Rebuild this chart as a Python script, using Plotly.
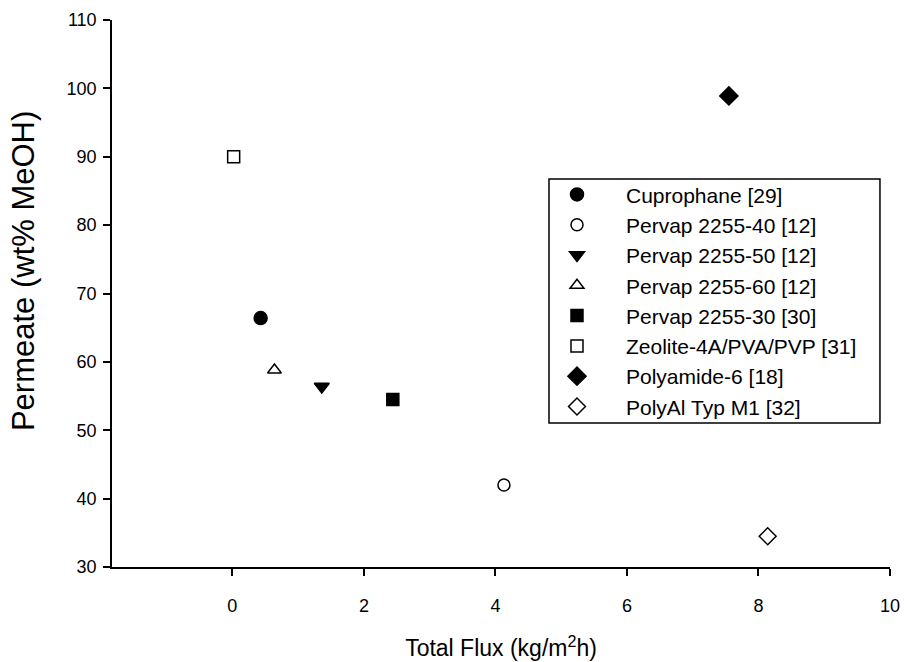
import plotly.graph_objects as go

names = ["Cuprophane [29]", "Pervap 2255-40 [12]", "Pervap 2255-50 [12]", "Pervap 2255-60 [12]",
         "Pervap 2255-30 [30]", "Zeolite-4A/PVA/PVP [31]", "Polyamide-6 [18]", "PolyAl Typ M1 [32]"]
flux = [0.43, 4.13, 1.36, 0.64, 2.44, 0.02, 7.55, 8.14]
permeate = [66.4, 42.0, 56.4, 58.8, 54.5, 90.0, 98.9, 34.5]
symbols = ["circle", "circle-open", "triangle-down", "triangle-up-open",
           "square", "square-open", "diamond", "diamond-open"]
sizes = [13, 12, 13, 12, 12, 12, 14, 13]
x_title = "Total Flux (kg/m<sup>2</sup>h)"
y_title = "Permeate (wt% MeOH)"

fig = go.Figure()
for n, x, y, s, sz in zip(names, flux, permeate, symbols, sizes):
    fig.add_trace(go.Scatter(
        x=[x], y=[y], mode="markers", name=n,
        marker=dict(symbol=s, size=sz, color="black", line=dict(color="black", width=1.5)),
    ))

font = "Liberation Sans, Arial, sans-serif"
fig.update_layout(
    width=906, height=662,
    margin=dict(l=112, r=16, t=20, b=95, autoexpand=False),
    paper_bgcolor="white", plot_bgcolor="white",
    font=dict(family=font, size=18, color="black"),
    showlegend=True,
    legend=dict(
        x=0.5347, y=0.718, xanchor="left", yanchor="top",
        borderwidth=0, bgcolor="rgba(0,0,0,0)",
        font=dict(family=font, size=21, color="black"),
        tracegroupgap=0, itemwidth=88,
    ),
    shapes=[dict(
        type="rect", xref="paper", yref="paper",
        x0=0.5617, x1=0.9871, y0=0.2633, y1=0.7093,
        line=dict(color="black", width=1.5), fillcolor="rgba(0,0,0,0)", layer="above",
    )],
    xaxis=dict(
        range=[-1.83, 10], tickvals=[0, 2, 4, 6, 8, 10],
        showline=True, linecolor="black", linewidth=1.5,
        ticks="outside", ticklen=7, tickwidth=1.5, tickcolor="black",
        showgrid=False, zeroline=False, mirror=False, automargin=False,
        ticklabelstandoff=15,
        tickfont=dict(size=18),
        title=dict(text=x_title, font=dict(size=23), standoff=25),
    ),
    yaxis=dict(
        range=[30, 110], tickvals=[30, 40, 50, 60, 70, 80, 90, 100, 110],
        showline=True, linecolor="black", linewidth=1.5,
        ticks="outside", ticklen=7, tickwidth=1.5, tickcolor="black",
        showgrid=False, zeroline=False, mirror=False, automargin=False,
        ticklabelstandoff=3,
        tickfont=dict(size=18),
    ),
    annotations=[dict(
        text=y_title, textangle=-90, xref="paper", yref="paper",
        x=0, xshift=-89, y=0.541, xanchor="center", yanchor="middle",
        showarrow=False, font=dict(family=font, size=31, color="black"),
    )],
)

fig.write_html("out.html")
